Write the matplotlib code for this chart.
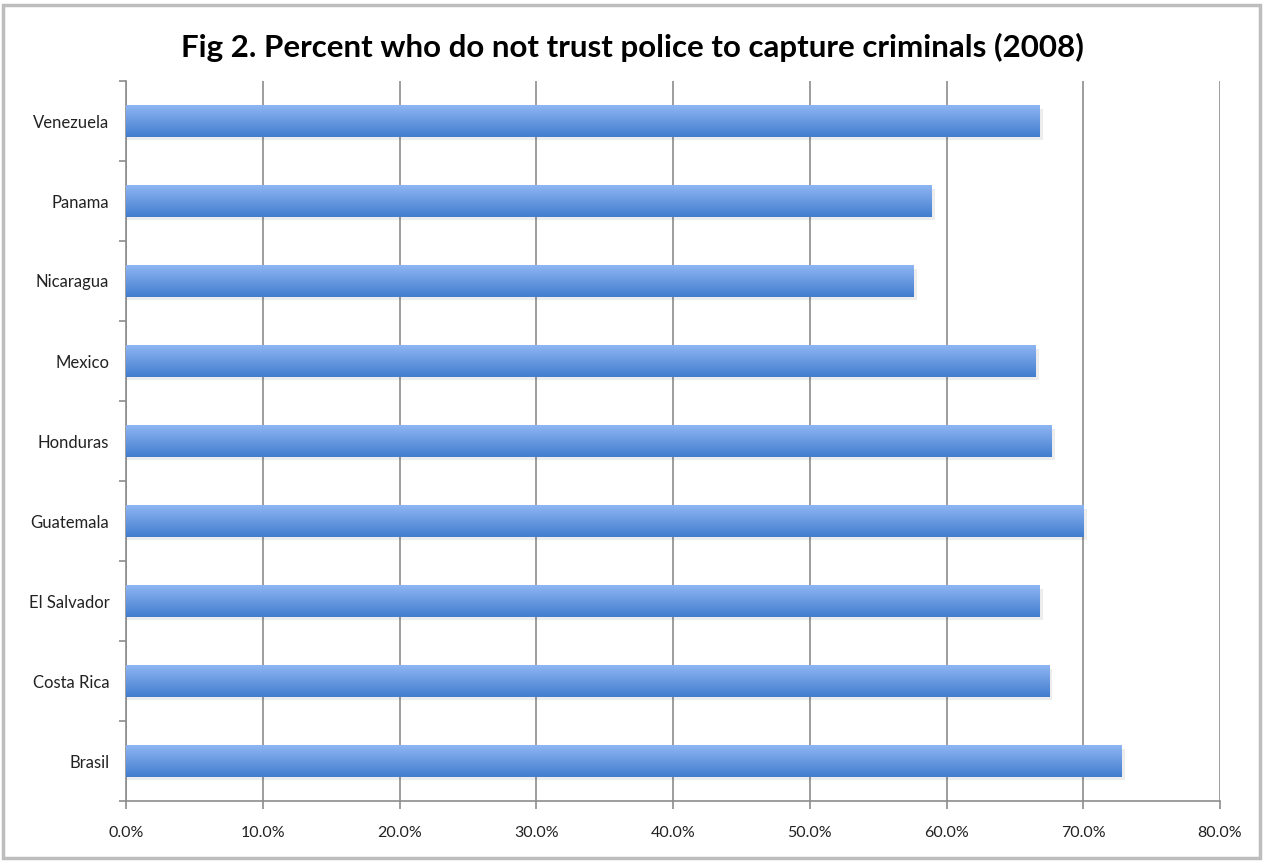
import numpy as np
import matplotlib.pyplot as plt
from matplotlib.patches import Rectangle
from matplotlib.ticker import FixedLocator, PercentFormatter

countries = ["Brasil", "Costa Rica", "El Salvador", "Guatemala", "Honduras",
             "Mexico", "Nicaragua", "Panama", "Venezuela"]
pct_no_trust = [72.8, 67.5, 66.8, 70.0, 67.7, 66.5, 57.6, 58.9, 66.8]
x_ticks = [0, 10, 20, 30, 40, 50, 60, 70, 80]
title = "Fig 2. Percent who do not trust police to capture criminals (2008)"

plt.rcParams['font.family'] = ['Lato', 'DejaVu Sans']

fig = plt.figure(figsize=(12.64, 8.61), dpi=100)
ax = fig.add_axes([126 / 1264, 1 - 801 / 861, (1220 - 126) / 1264, (801 - 81) / 861])

y = np.arange(len(countries))
bars = ax.barh(y, pct_no_trust, height=0.39, facecolor="none", edgecolor="none", zorder=3)

# vertical gradient, light on top, darker below
grad = np.linspace(0, 1, 64).reshape(-1, 1)
top = np.array([0.56, 0.71, 0.95])
bot = np.array([0.26, 0.49, 0.81])
img = top + (bot - top) * grad[..., None]
img = img.reshape(64, 1, 3)
for b in bars:
    x0, y0, w, h = b.get_x(), b.get_y(), b.get_width(), b.get_height()
    # faint shadow under the bar
    ax.add_patch(Rectangle((x0, y0 - 0.04), w + 0.25, h, facecolor="#000000",
                           alpha=0.07, edgecolor="none", zorder=2))
    im = ax.imshow(img, extent=(x0, x0 + w, y0, y0 + h), origin="upper",
                   aspect="auto", zorder=3, interpolation="bilinear")
    im.set_clip_path(b)

ax.set_xlim(0, 80)
ax.set_ylim(-0.5, len(countries) - 0.5)
ax.set_xticks(x_ticks)
ax.xaxis.set_major_formatter(PercentFormatter(decimals=1))
ax.set_yticks(y)
ax.set_yticklabels(countries)
ax.yaxis.set_minor_locator(FixedLocator(np.arange(-0.5, len(countries), 1)))

ax.grid(axis="x", color="#8c8c8c", linewidth=1.2, zorder=1)
ax.set_axisbelow(True)
for s in ["top", "right"]:
    ax.spines[s].set_visible(False)
for s in ["left", "bottom"]:
    ax.spines[s].set_color("#8c8c8c")
    ax.spines[s].set_linewidth(1.2)

ax.tick_params(axis="y", which="major", length=0, pad=12, labelsize=12, labelcolor="#222222")
ax.tick_params(axis="y", which="minor", length=5, color="#8c8c8c", width=1.2)
ax.tick_params(axis="x", length=6, color="#8c8c8c", width=1.2, pad=12,
               labelsize=11.5, labelcolor="#222222")

fig.text(0.5, 1 - 47 / 861, title, ha="center", va="center",
         fontsize=22.5, fontweight="bold", color="#000000")

# chart frame
fig.add_artist(Rectangle((3 / 1264, 3 / 861), 1257 / 1264, 853 / 861,
                         transform=fig.transFigure, facecolor="none",
                         edgecolor="#bdbdbd", linewidth=2.5))

fig.savefig("out.png", dpi=100)
